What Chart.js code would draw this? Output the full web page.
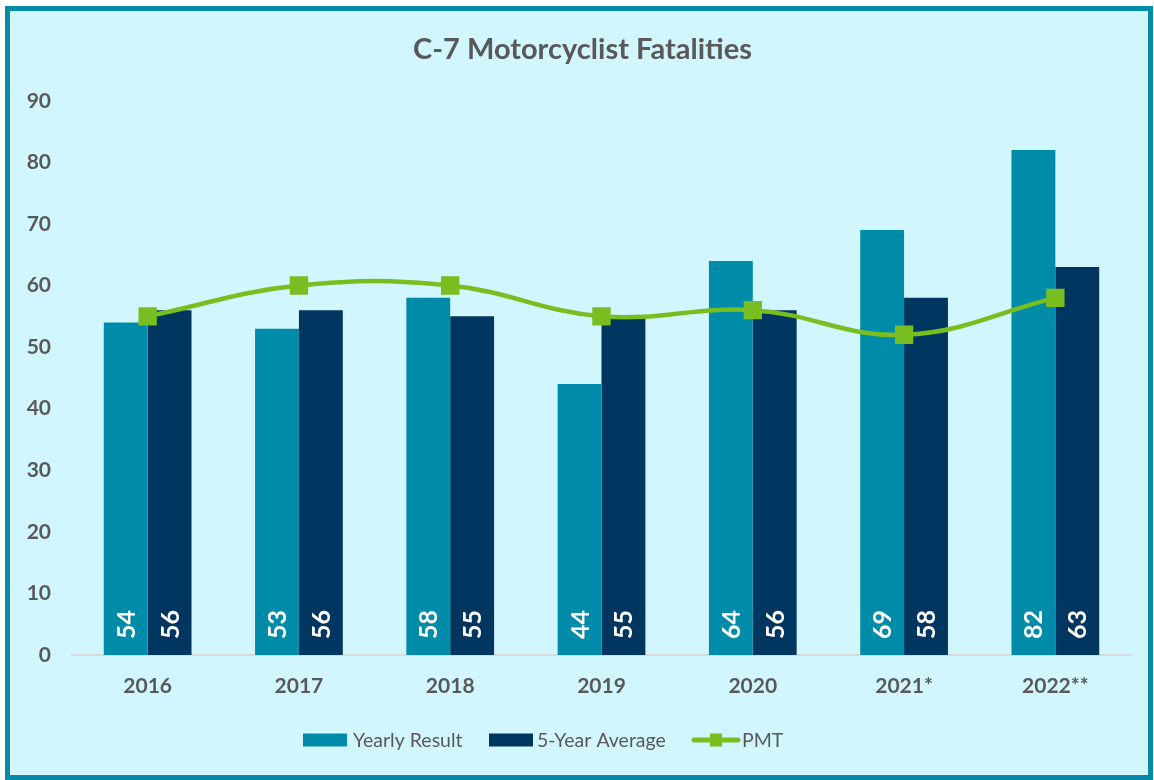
<!DOCTYPE html>
<html>
<head>
<meta charset="utf-8">
<script src="https://cdn.jsdelivr.net/npm/chart.js@4.4.1/dist/chart.umd.min.js"></script>
<style>
html,body{margin:0;padding:0;background:#fff;}
#wrap{position:absolute;left:0;top:0;width:1154px;height:780px;}
</style>
</head>
<body>
<div id="wrap"><canvas id="c" width="1154" height="780"></canvas></div>
<script>
const categories = ["2016","2017","2018","2019","2020","2021*","2022**"];
const yearlyResult = [54,53,58,44,64,69,82];
const fiveYearAvg = [56,56,55,55,56,58,63];
const pmt = [55,60,60,55,56,52,58];
const yTicks = [0,10,20,30,40,50,60,70,80,90];

const TEAL = '#008CA8', NAVY = '#003660', GREEN = '#78BE21', GRAY = '#595959', BG = '#D2F6FE';
const FONT = 'Lato';

const bgPlugin = {
  id: 'bg',
  afterLayout(chart) {
    const t = chart.titleBlock;
    if (t) { t.left += 17; t.right += 17; }
  },
  beforeDraw(chart) {
    const ctx = chart.ctx;
    ctx.save();
    ctx.fillStyle = '#ffffff';
    ctx.fillRect(0,0,chart.width,chart.height);
    ctx.fillStyle = TEAL;
    ctx.fillRect(5,6,1148,774);
    ctx.fillStyle = '#E6FAFE';
    ctx.fillRect(10,11,1138,764);
    ctx.fillStyle = BG;
    ctx.fillRect(11,12,1136,762);
    ctx.restore();
  }
};

const labelPlugin = {
  id: 'barLabels',
  afterDatasetsDraw(chart) {
    const ctx = chart.ctx;
    const yScale = chart.scales.y;
    const base = yScale.getPixelForValue(0);
    chart.data.datasets.forEach((ds, i) => {
      if (ds.type === 'line') return;
      const meta = chart.getDatasetMeta(i);
      meta.data.forEach((el, j) => {
        ctx.save();
        ctx.translate(el.x + 1, base - 16);
        ctx.rotate(-Math.PI/2);
        ctx.fillStyle = '#ffffff';
        ctx.font = 'bold 25px ' + FONT;
        ctx.textAlign = 'left';
        ctx.textBaseline = 'middle';
        ctx.fillText(String(ds.data[j]), 0, 0);
        ctx.restore();
      });
    });
  }
};

const legendPlugin = {
  id: 'customLegend',
  afterDraw(chart) {
    const ctx = chart.ctx;
    const ds = chart.data.datasets;
    const yr = ds.find(d => d.label === 'Yearly Result');
    const av = ds.find(d => d.label === '5-Year Average');
    const pm = ds.find(d => d.label === 'PMT');
    const cy = 740;
    ctx.save();
    ctx.font = '19.5px ' + FONT;
    ctx.textBaseline = 'middle';
    ctx.textAlign = 'left';
    let x = 303;
    ctx.fillStyle = yr.backgroundColor;
    ctx.fillRect(x, cy - 6.5, 44, 13);
    ctx.fillStyle = GRAY;
    ctx.fillText(yr.label, x + 50, cy + 1);
    x = 489;
    ctx.fillStyle = av.backgroundColor;
    ctx.fillRect(x, cy - 6.5, 44, 13);
    ctx.fillStyle = GRAY;
    ctx.fillText(av.label, x + 48, cy + 1);
    x = 692;
    ctx.strokeStyle = pm.borderColor;
    ctx.lineWidth = 5;
    ctx.lineCap = 'round';
    ctx.beginPath();
    ctx.moveTo(x + 2, cy);
    ctx.lineTo(x + 46, cy);
    ctx.stroke();
    ctx.fillStyle = pm.borderColor;
    ctx.fillRect(x + 24 - 6, cy - 6.5, 12, 13);
    ctx.fillStyle = GRAY;
    ctx.fillText(pm.label, x + 50, cy + 1);
    ctx.restore();
  }
};

new Chart(document.getElementById('c'), {
  data: {
    labels: categories,
    datasets: [
      { type: 'bar', label: 'Yearly Result', data: yearlyResult, backgroundColor: TEAL,
        borderWidth: 0, order: 1,
        categoryPercentage: 0.58, barPercentage: 1.0 },
      { type: 'bar', label: '5-Year Average', data: fiveYearAvg, backgroundColor: NAVY,
        borderWidth: 0, order: 1,
        categoryPercentage: 0.58, barPercentage: 1.0 },
      { type: 'line', label: 'PMT', data: pmt, borderColor: GREEN, backgroundColor: GREEN,
        borderWidth: 4.5, tension: 0.4, pointStyle: 'rect', pointRadius: 13, pointHoverRadius: 13,
        pointBorderWidth: 0, pointBackgroundColor: GREEN, order: 0 }
    ]
  },
  options: {
    responsive: false,
    animation: false,
    devicePixelRatio: 1,
    layout: { padding: { left: 0, right: 23, top: 0, bottom: 81 } },
    plugins: {
      legend: { display: false },
      tooltip: { enabled: false },
      title: {
        display: true,
        text: 'C-7 Motorcyclist Fatalities',
        color: GRAY,
        font: { family: FONT, size: 29, weight: 'bold' },
        padding: { top: 32, bottom: 34 }
      }
    },
    scales: {
      x: {
        grid: { display: false, drawTicks: false },
        border: { display: true, color: '#D9D9D9', width: 2 },
        ticks: { color: GRAY, font: { family: FONT, size: 21, weight: 'bold' }, padding: 19, maxRotation: 0 },
        afterFit(s) { s.height = 44; }
      },
      y: {
        min: 0, max: 90,
        afterBuildTicks(s) { s.ticks = yTicks.map(v => ({ value: v })); },
        grid: { display: false, drawTicks: false },
        border: { display: false },
        ticks: { color: GRAY, font: { family: FONT, size: 21, weight: 'bold' }, padding: 21 },
        afterFit(s) { s.width = 72; }
      }
    }
  },
  plugins: [bgPlugin, labelPlugin, legendPlugin]
});
</script>
</body>
</html>
